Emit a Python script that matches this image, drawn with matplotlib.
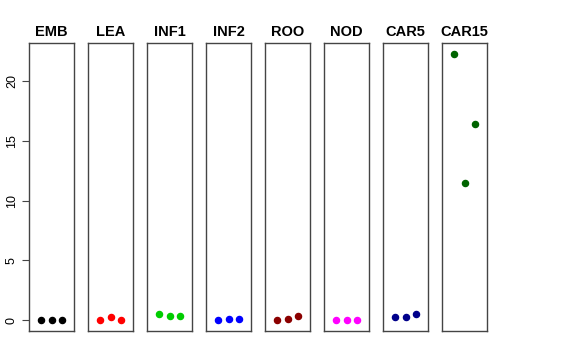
import matplotlib
matplotlib.use("Agg")
import matplotlib.pyplot as plt

plt.rcParams['font.family'] = ['Liberation Sans', 'DejaVu Sans']

# panel names, colours and the three values per panel
stages = ['EMB', 'LEA', 'INF1', 'INF2', 'ROO', 'NOD', 'CAR5', 'CAR15']
colors = ['black', '#FF0000', '#00CD00', '#0000FF', '#8B0000', '#FF00FF', '#00008B', '#006400']
values = [
    [0.0, 0.0, 0.0],
    [0.0, 0.25, 0.0],
    [0.53, 0.36, 0.39],
    [0.0, 0.11, 0.14],
    [0.02, 0.14, 0.36],
    [0.0, 0.0, 0.0],
    [0.27, 0.25, 0.5],
    [22.27, 11.5, 16.4],
]
xpos = [1, 2, 3]
yticks = [0, 5, 10, 15, 20]

W, H = 576, 360
fig = plt.figure(figsize=(W / 100, H / 100), dpi=100)

left0 = 29
pitch = 59
pw = 45
top, bottom = 43, 331
ymin, ymax = -0.89, 23.17

for i, (name, col, vals) in enumerate(zip(stages, colors, values)):
    ax = fig.add_axes([(left0 + i * pitch) / W, (H - bottom) / H, pw / W, (bottom - top) / H])
    ax.plot(xpos, vals, 'o', color=col, ms=4.4, mec=col)
    ax.set_xlim(-0.16, 4.16)
    ax.set_ylim(ymin, ymax)
    ax.set_xticks([])
    for s in ax.spines.values():
        s.set_color('#444444')
        s.set_linewidth(1)
    ax.set_title(name, fontsize=10.5, fontweight='bold', pad=5)
    if i == 0:
        ax.set_yticks(yticks)
        ax.set_yticklabels([str(t) for t in yticks], rotation=90, va='center', fontsize=9)
        ax.tick_params(axis='y', length=5, width=0.8, color='#444444', pad=3)
    else:
        ax.set_yticks([])

fig.savefig('out.png', dpi=100)
